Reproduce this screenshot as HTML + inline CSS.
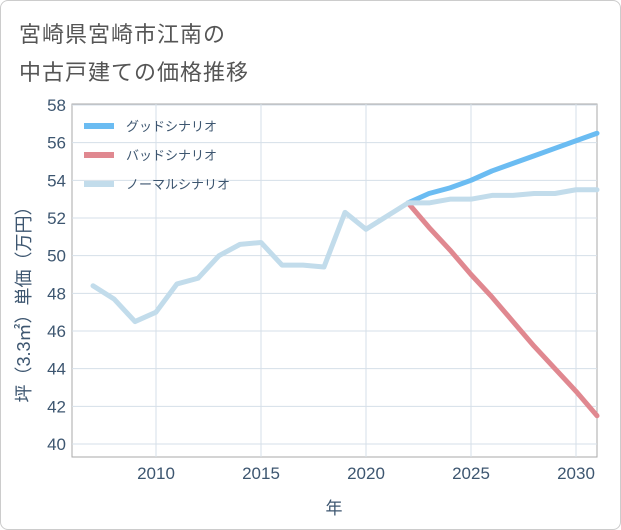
<!DOCTYPE html>
<html><head><meta charset="utf-8">
<style>
body{margin:0;background:#fff;}
#wrap{position:relative;width:619px;height:528px;border:1px solid #ccc;border-radius:8px;background:#fff;overflow:hidden;font-family:"Liberation Sans","Noto Sans CJK JP",sans-serif;}
.title{position:absolute;left:18px;font-size:22px;color:#555;letter-spacing:1px;}
</style></head><body>
<div id="wrap">
<div class="title" style="top:16px">宮崎県宮崎市江南の</div>
<div class="title" style="top:54px">中古戸建ての価格推移</div>
<svg id="chart" width="621" height="530" style="position:absolute;left:-1px;top:-1px"></svg>
</div>
<script>
const yearsNormal=[2007,2008,2009,2010,2011,2012,2013,2014,2015,2016,2017,2018,2019,2020,2021,2022,2023,2024,2025,2026,2027,2028,2029,2030,2031];
const normalValues=[48.4,47.7,46.5,47.0,48.5,48.8,50.0,50.6,50.7,49.5,49.5,49.4,52.3,51.4,52.1,52.8,52.8,53.0,53.0,53.2,53.2,53.3,53.3,53.5,53.5];
const yearsForecast=[2022,2023,2024,2025,2026,2027,2028,2029,2030,2031];
const goodValues=[52.8,53.3,53.6,54.0,54.5,54.9,55.3,55.7,56.1,56.5];
const badValues=[52.8,51.5,50.3,49.0,47.8,46.5,45.2,44.0,42.8,41.5];
const yTicks=[40,42,44,46,48,50,52,54,56,58];
const xTicks=[2010,2015,2020,2025,2030];
const NS='http://www.w3.org/2000/svg';
const svg=document.getElementById('chart');
const L=72,R=597,T=104,B=457;
const TXT='#3d5670';
const xs=v=>L+(v-2006)/(2031-2006)*(R-L);
const ys=v=>444-(v-40)/18*339;
function mk(t,a,name){const e=document.createElementNS(NS,t);for(const k in a)e.setAttribute(k,a[k]);


svg.appendChild(e);return e;}
mk('rect',{x:L,y:T,width:R-L,height:B-T,fill:'#fff',stroke:'#aaa'},'plot-area');
yTicks.forEach(v=>{mk('line',{x1:L,x2:R,y1:ys(v),y2:ys(v),stroke:'#d5dfe8'},'y-gridline');
const t=mk('text',{x:L-6,y:ys(v)+6,'text-anchor':'end','font-size':17,fill:TXT},'y-tick-label');t.textContent=v;});
xTicks.forEach(v=>{mk('line',{x1:xs(v),x2:xs(v),y1:T,y2:B,stroke:'#d5dfe8'},'x-gridline');
const t=mk('text',{x:xs(v),y:B+22,'text-anchor':'middle','font-size':17,fill:TXT},'x-tick-label');t.textContent=v;});
const xt=mk('text',{x:334,y:514,'text-anchor':'middle','font-size':17,fill:TXT},'x-axis-title');xt.textContent='年';
const yt=mk('text',{x:0,y:0,'text-anchor':'middle','font-size':18,fill:TXT,transform:'translate(30,300) rotate(-90)'},'y-axis-title');yt.textContent='坪（3.3㎡）単価（万円）';
function line(xsA,vals,col,name){mk('polyline',{points:xsA.map((x,i)=>xs(x)+','+ys(vals[i])).join(' '),fill:'none',stroke:col,'stroke-width':5,'stroke-linejoin':'round','stroke-linecap':'round'},name);}
line(yearsForecast,badValues,'#e08890','line-bad');
line(yearsForecast,goodValues,'#6bbcf2','line-good');
line(yearsNormal,normalValues,'#c2dceb','line-normal');
[['グッドシナリオ','#6bbcf2',126],['バッドシナリオ','#e08890',155],['ノーマルシナリオ','#c2dceb',184]].forEach(([n,c,y])=>{
mk('line',{x1:84,x2:114,y1:y,y2:y,stroke:c,'stroke-width':6},'legend-swatch');
const t=mk('text',{x:126,y:y+5,'font-size':13,fill:TXT},'legend-entry');t.textContent=n;});
</script>
</body></html>
